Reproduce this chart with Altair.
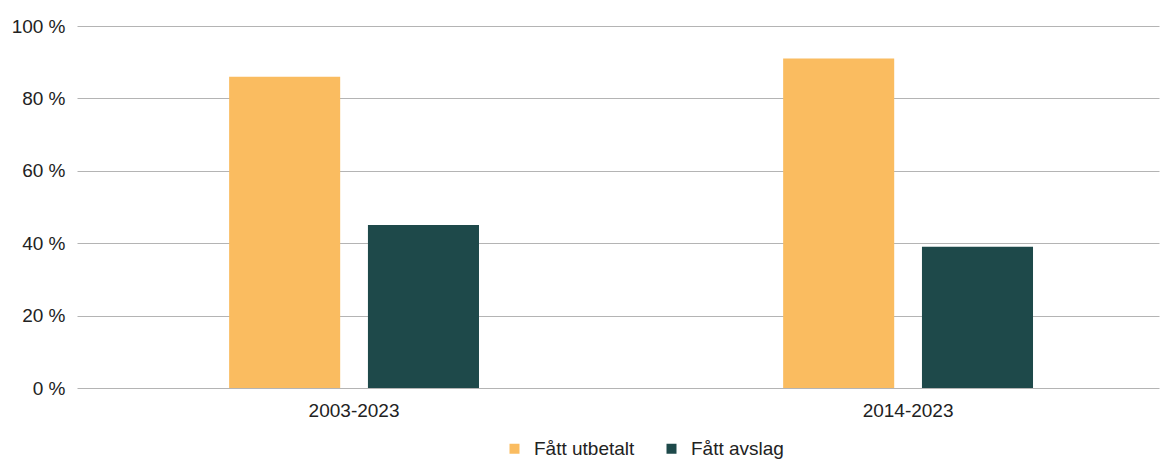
import altair as alt
import pandas as pd

periods = ["2003-2023", "2014-2023"]
series = ["Fått utbetalt", "Fått avslag"]
utbetalt = [86, 91]
avslag = [45, 39]
colors = ["#FABC60", "#1E494A"]
y_ticks = [0, 20, 40, 60, 80, 100]

rows = []
for i, p in enumerate(periods):
    rows.append({"period": p, "series": series[0], "value": utbetalt[i]})
    rows.append({"period": p, "series": series[1], "value": avslag[i]})
df = pd.DataFrame(rows)

font = "Liberation Sans"

chart = alt.Chart(df).mark_bar().encode(
    x=alt.X("period:N", sort=periods,
            scale=alt.Scale(paddingInner=0.549, paddingOuter=0.251, align=0.547),
            axis=alt.Axis(title=None, labelAngle=0, domain=False, ticks=False,
                          labelPadding=13, labelFontSize=19, labelFont=font,
                          labelColor="#222222")),
    xOffset=alt.XOffset("series:N", sort=series,
                        scale=alt.Scale(paddingInner=0.2, paddingOuter=0)),
    y=alt.Y("value:Q", scale=alt.Scale(domain=[0, 100]),
            axis=alt.Axis(title=None, values=y_ticks, labelExpr="datum.value + ' %'",
                          grid=True, gridColor="#b4b4b4", gridWidth=1,
                          domain=False, ticks=False, labelPadding=12,
                          labelFontSize=19, labelFont=font, labelColor="#222222")),
    color=alt.Color("series:N", sort=series,
                    scale=alt.Scale(domain=series, range=colors),
                    legend=alt.Legend(title=None, orient="none", direction="horizontal",
                                      legendX=428, legendY=413, symbolType="square",
                                      symbolSize=100, symbolStrokeWidth=0,
                                      labelFontSize=19, labelFont=font,
                                      labelColor="#222222", labelOffset=10,
                                      columnPadding=27, padding=0)),
).properties(
    width=1082, height=362,
    autosize="none",
    padding={"left": 69, "top": 18, "right": 1, "bottom": 74},
).configure_view(stroke=None)

chart.save("out.html", embed_options={"renderer": "svg", "actions": False})
